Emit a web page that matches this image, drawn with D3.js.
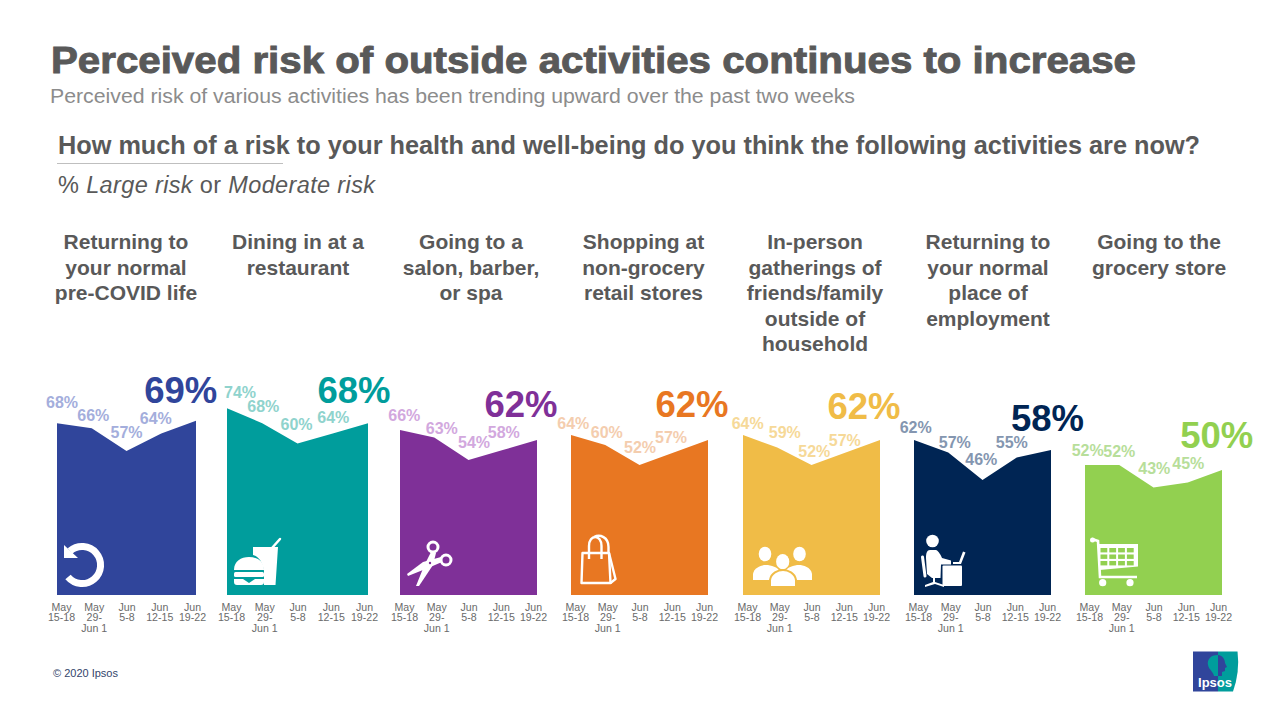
<!DOCTYPE html>
<html>
<head>
<meta charset="utf-8">
<script src="https://cdn.jsdelivr.net/npm/d3@7"></script>
<style>
html,body{margin:0;padding:0;background:#fff;}
svg{display:block;}
text{font-family:"Liberation Sans",Arial,sans-serif;}
</style>
</head>
<body>
<svg id="chart" width="1280" height="720"></svg>
<script>
// values
var periods=["May 15-18","May 29-Jun 1","Jun 5-8","Jun 12-15","Jun 19-22"];
var periodLines=[["May","15-18"],["May","29-","Jun 1"],["Jun","5-8"],["Jun","12-15"],["Jun","19-22"]];
var returningLife=[68,66,57,64,69];
var diningIn=[74,68,60,64,68];
var salon=[66,63,54,58,62];
var shopping=[64,60,52,57,62];
var gatherings=[64,59,52,57,62];
var employment=[62,57,46,55,58];
var grocery=[52,52,43,45,50];
var allSeries=[returningLife,diningIn,salon,shopping,gatherings,employment,grocery];
var panelTitles=[
  ["Returning to","your normal","pre-COVID life"],
  ["Dining in at a","restaurant"],
  ["Going to a","salon, barber,","or spa"],
  ["Shopping at","non-grocery","retail stores"],
  ["In-person","gatherings of","friends/family","outside of","household"],
  ["Returning to","your normal","place of","employment"],
  ["Going to the","grocery store"]
];

// layout, kept apart from the data
var colors=["#30459B","#009D9C","#7F3098","#E87722","#F0BC47","#002554","#92D050"];
var lightColors=["#A4AEDC","#8FD3CD","#D2A8DE","#F4CDAE","#F6D998","#8496B0","#B7DE9A"];
var panelLeft=[57,227,400,571,743,914,1085];
var panelWidth=[139,141,137,137,137,137,137];
var pxPerPoint=[2.525,2.525,2.5,2.5,2.5,2.5,2.5];
var titleCentre=[126,298,471,643.5,815,988,1159];
var baseY=595;
// label nudges from each data point [dx,dy], last one is the big label
var labelNudge=[
  [[5,-15],[1.5,-7.4],[0,-13.5],[-5.5,-9.1],[-15.3,-17.8]],
  [[13,-10],[1,-11.5],[-1,-13.3],[0.5,-10.9],[-14,-20]],
  [[4.3,-9.2],[7.5,-4],[5.5,-11.9],[1,-12.2],[-16,-23]],
  [[2.3,-6.5],[1.5,-7.2],[0.5,-12.5],[-2.7,-9.4],[-16,-23]],
  [[4.7,-5.9],[7.5,-9.7],[2.8,-8.5],[-1,-6.7],[-16,-21]],
  [[1.7,-6.9],[6.5,-5],[-1.2,-15.2],[-5,-9.7],[-3.5,-19.3]],
  [[2.7,-9.2],[0,-8.2],[0.8,-13.4],[0.5,-13.4],[-5.3,-22.3]]
];

var svg=d3.select("#chart");

function addText(x,y,str,size,weight,fill,anchor,len,adjust){
  var t=svg.append("text").attr("x",x).attr("y",y).text(str)
    .attr("font-size",size).attr("font-weight",weight).attr("fill",fill)
    .attr("text-anchor",anchor||"start");
  if(len) t.attr("textLength",len).attr("lengthAdjust",adjust||"spacing");
  return t;
}

addText(51,73,"Perceived risk of outside activities continues to increase",36,"bold","#595959","start",1085,"spacingAndGlyphs")
  .attr("stroke","#595959").attr("stroke-width",0.9);
addText(50,103,"Perceived risk of various activities has been trending upward over the past two weeks",20,"normal","#8c8c8c","start",805,"spacingAndGlyphs");
addText(58,154,"How much of a risk to your health and well-being do you think the following activities are now?",25,"bold","#595959","start",1142,"spacingAndGlyphs");
svg.append("line").attr("x1",57).attr("x2",283).attr("y1",163.5).attr("y2",163.5).attr("stroke","#bfbfbf").attr("stroke-width",1);

var sub=addText(58,192.5,"",23.5,"normal","#595959","start",317);
sub.append("tspan").text("% ");
sub.append("tspan").attr("font-style","italic").text("Large risk");
sub.append("tspan").text(" or ");
sub.append("tspan").attr("font-style","italic").text("Moderate risk");

allSeries.forEach(function(values,p){
  var left=panelLeft[p], right=left+panelWidth[p];
  var x=d3.scalePoint().domain(periods).range([left,right]);
  var y=d3.scaleLinear().domain([0,100]).range([baseY,baseY-100*pxPerPoint[p]]);
  var rows=periods.map(function(d,i){return {period:d,value:values[i],i:i};});

  panelTitles[p].forEach(function(line,i){
    addText(titleCentre[p],249+i*25.6,line,21,"bold","#595959","middle");
  });

  var area=d3.area()
    .x(function(d){return x(d.period);})
    .y0(y(0))
    .y1(function(d){return y(d.value);});
  svg.append("path").datum(rows).attr("d",area).attr("fill",colors[p]);

  // small labels plus the big one for the latest wave
  svg.append("g").selectAll("text").data(rows).enter().append("text")
    .attr("x",function(d){return x(d.period)+labelNudge[p][d.i][0];})
    .attr("y",function(d){return y(d.value)+labelNudge[p][d.i][1];})
    .attr("text-anchor","middle")
    .attr("font-weight","bold")
    .attr("font-size",function(d){return d.i==4?36.5:16;})
    .attr("fill",function(d){return d.i==4?colors[p]:lightColors[p];})
    .text(function(d){return d.value+"%";});

  var tickScale=d3.scalePoint().domain(periods).range([left+4,right-4]);
  var axis=d3.axisBottom(tickScale).tickSize(0).tickFormat("");
  var ag=svg.append("g").attr("transform","translate(0,"+baseY+")").call(axis);
  ag.select(".domain").remove();
  ag.selectAll(".tick text").each(function(d,i){
    var t=d3.select(this).attr("dy",null).attr("y",0)
      .attr("font-size",10.6).attr("fill","#6a6a6a")
      .attr("font-family",'"Liberation Sans",Arial,sans-serif');
    periodLines[i].forEach(function(line,k){
      t.append("tspan").attr("x",0).attr("y",15.8+k*10.4).text(line);
    });
  });
});

// icons, drawn in white on the panels
var ic=svg.append("g").attr("fill","#fff");

// return arrow
ic.append("path").attr("d","M70,551A18.5,18.5 0 1 1 68,577").attr("fill","none").attr("stroke","#fff").attr("stroke-width",7);
ic.append("path").attr("d","M64,545L64,558L78,558Z");

// burger and drink
ic.append("path").attr("d","M253,547L278,547L275.5,585L264,585L264,571C263,562 258,556 253,555Z");
ic.append("line").attr("x1",272).attr("y1",548).attr("x2",280).attr("y2",539).attr("stroke","#fff").attr("stroke-width",2.5).attr("stroke-linecap","round");
ic.append("path").attr("d","M234,570C234,561 241,557 249,557C257,557 264,561 264,570Z");
ic.append("rect").attr("x",234).attr("y",572).attr("width",30).attr("height",5).attr("rx",1.5);
ic.append("path").attr("d","M234,579L243,579L249,583L255,579L264,579L264,582Q264,585 261,585L237,585Q234,585 234,582Z");

// scissors
ic.append("circle").attr("cx",433).attr("cy",547).attr("r",5).attr("fill","none").attr("stroke","#fff").attr("stroke-width",3);
ic.append("circle").attr("cx",446).attr("cy",560).attr("r",5).attr("fill","none").attr("stroke","#fff").attr("stroke-width",3);
ic.append("path").attr("d","M431,552L436,553L433,565L419,586L416,586L424,566Z");
ic.append("path").attr("d","M441,557L442,562L428,568L408,576L407,574L423,562Z");
ic.append("circle").attr("cx",430).attr("cy",563).attr("r",1.2).attr("fill",colors[2]);

// shopping bag
var bag=ic.append("g").attr("fill","none").attr("stroke","#fff").attr("stroke-width",2.4).attr("stroke-linejoin","round");
bag.append("path").attr("d","M582.5,553L609,553L610.5,583L581.5,583Z");
bag.append("path").attr("d","M609,553L615.5,579L610.5,583");
bag.append("path").attr("d","M589,559L589,546C589,534 601.5,534 601.5,546L601.5,559");
bag.append("path").attr("d","M594,537C600,534 608.5,537 608.5,547L608.5,553");

// three people
[[765,554],[799.5,554]].forEach(function(h){
  ic.append("ellipse").attr("cx",h[0]).attr("cy",h[1]).attr("rx",6.3).attr("ry",7.3);
});
ic.append("path").attr("d","M753,580L753,574C754,567 762,565 766,565C771,565 778,567 780,572L776,580Z");
ic.append("path").attr("d","M812,580L812,574C811,567 803,565 799,565C794,565 787,567 785,572L789,580Z");
ic.append("ellipse").attr("cx",782.7).attr("cy",561.7).attr("rx",6.6).attr("ry",7.6);
ic.append("path").attr("d","M770,587L770,580C771,573 778,570 783,570C788,570 795,573 796,580L796,587Z")
  .attr("stroke",colors[4]).attr("stroke-width",2);

// person at a desk
ic.append("circle").attr("cx",932.5).attr("cy",541).attr("r",6.3);
ic.append("path").attr("d","M930,550L936,550C939,551 941,556 942,558L951,560.5L951,564.5L941,564.5L940.5,578L932,578L927,574L926,558C926,553 927,550 930,550Z");
ic.append("line").attr("x1",922.5).attr("y1",557).attr("x2",925).attr("y2",576).attr("stroke","#fff").attr("stroke-width",3).attr("stroke-linecap","round");
ic.append("rect").attr("x",942.5).attr("y",565.5).attr("width",19.5).attr("height",20.5).attr("rx",1);
ic.append("path").attr("d","M933,578L935,578L935,582L944,585L944,587L935,584L925,587L925,585L933,582Z");
ic.append("path").attr("d","M953,562L959,562L963,551.5L965.5,552.5L961,564L953,564Z");

// shopping cart
ic.append("circle").attr("cx",1092.5).attr("cy",540).attr("r",2.5);
ic.append("path").attr("d","M1092,539L1098,541L1100,577L1137,577").attr("fill","none").attr("stroke","#fff").attr("stroke-width",2.6);
ic.append("path").attr("d","M1098.5,544L1138,544L1138,566.5L1099.5,570Z");
d3.range(3).forEach(function(r){
  d3.range(4).forEach(function(c){
    ic.append("rect").attr("x",1100.5+c*8.8).attr("y",548+r*6.5).attr("width",6.8).attr("height",4.4).attr("fill",colors[6]);
  });
});
ic.append("circle").attr("cx",1102.7).attr("cy",582.7).attr("r",3.6);
ic.append("circle").attr("cx",1130).attr("cy",582.7).attr("r",3.6);

addText(53,677,"© 2020 Ipsos",11,"normal","#33446b");

// Ipsos logo
var logo=svg.append("g");
logo.append("path").attr("d","M1218,651.5L1237.5,651.5Q1240,672 1233,691.5L1218,691.5Z").attr("fill","#009D9C");
logo.append("rect").attr("x",1193).attr("y",651.5).attr("width",25).attr("height",40).attr("fill","#30459B");
logo.append("path").attr("d","M1218,655C1210,655 1207,660 1208,665C1209,670 1213,671 1214,676L1218,676Z").attr("fill","#009D9C");
logo.append("path").attr("d","M1218,655C1222,655 1225,659 1225,663L1227,667L1225,668L1225,671L1222,672L1222,676L1218,676Z").attr("fill","#30459B");
addText(1215,687,"Ipsos",13,"bold","#fff","middle");
</script>
</body>
</html>
